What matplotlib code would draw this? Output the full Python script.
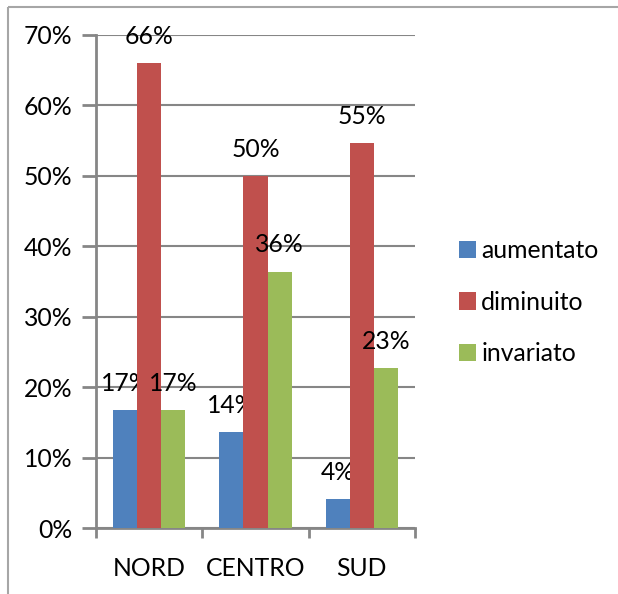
import matplotlib
matplotlib.use("Agg")
import matplotlib.pyplot as plt
from matplotlib.lines import Line2D
import numpy as np

categories = ["NORD", "CENTRO", "SUD"]
series_names = ["aumentato", "diminuito", "invariato"]
aumentato = [0.167, 0.136, 0.041]
diminuito = [0.66, 0.50, 0.546]
invariato = [0.167, 0.364, 0.227]
y_ticks = [0.0, 0.1, 0.2, 0.3, 0.4, 0.5, 0.6, 0.7]
colors = ["#4F81BD", "#C0504D", "#9BBB59"]

plt.rcParams['font.family'] = ['Lato', 'DejaVu Sans']
FS = 17.8

W, H = 618, 594
fig = plt.figure(figsize=(W / 100, H / 100), dpi=100)
ax = fig.add_axes([96 / W, (H - 528) / H, (415 - 96) / W, (528 - 35) / H])

x = np.arange(len(categories))
bw = 0.226
for i, (vals, name, c) in enumerate(zip([aumentato, diminuito, invariato], series_names, colors)):
    bars = ax.bar(x + (i - 1) * bw, vals, bw, color=c, label=name, zorder=3)
    ax.bar_label(bars, labels=[f"{round(v * 100):.0f}%" for v in vals],
                 padding=11, fontsize=FS, color="black")

ax.set_xlim(-0.5, 2.5)
ax.set_ylim(0, 0.7)
ax.set_yticks(y_ticks)
ax.set_yticklabels([f"{int(round(t * 100))}%" for t in y_ticks], fontsize=FS)
ax.set_xticks(x)
ax.set_xticklabels(categories, fontsize=FS)
ax.set_xticks([-0.5, 0.5, 1.5, 2.5], minor=True)
ax.tick_params(axis='x', which='major', length=0, pad=21)
ax.tick_params(axis='x', which='minor', length=7, width=2, color="#868686", direction='out')
ax.tick_params(axis='y', length=10, width=2, color="#868686", pad=7)
ax.grid(axis='y', color="#868686", linewidth=1.5, zorder=0)
ax.set_axisbelow(True)
for s in ["top", "right"]:
    ax.spines[s].set_visible(False)
for s in ["left", "bottom"]:
    ax.spines[s].set_color("#868686")
    ax.spines[s].set_linewidth(2)

ax.legend(loc="center left", bbox_to_anchor=(459 / W, (H - 302) / H),
          bbox_transform=fig.transFigure, frameon=False, fontsize=FS,
          handlelength=0.7, handleheight=0.7, handletextpad=0.2,
          labelspacing=1.15, borderpad=0, borderaxespad=0)

fig.add_artist(Line2D([8 / W, 8 / W], [0, (H - 7) / H], color="#A6A6A6", linewidth=1.5,
                      transform=fig.transFigure, solid_capstyle="butt"))
fig.add_artist(Line2D([8 / W, 1.0], [(H - 7) / H, (H - 7) / H], color="#A6A6A6", linewidth=1.5,
                      transform=fig.transFigure, solid_capstyle="butt"))

fig.savefig("out.png", dpi=100, facecolor="white")
